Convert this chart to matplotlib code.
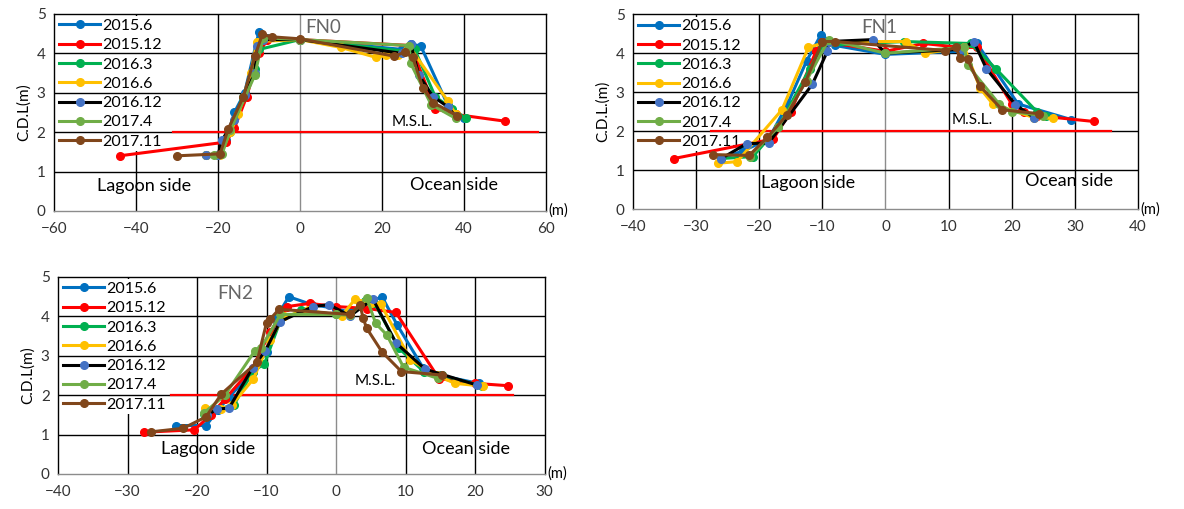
"""Beach profile chart, FN0 / FN1 / FN2 cross sections"""

import matplotlib
matplotlib.use('Agg')
import matplotlib.pyplot as plt
import matplotlib.transforms as mtransforms


plt.rcParams['font.family'] = ['Lato', 'DejaVu Sans']

LABELS = ['2015.6', '2015.12', '2016.3', '2016.6', '2016.12', '2017.4', '2017.11']
LINE_COLORS = ['#0070C0', '#FF0000', '#00B050', '#FFC000', '#000000', '#70AD47', '#80461B']
MARKER_COLORS = ['#0070C0', '#FF0000', '#00B050', '#FFC000', '#4472C4', '#70AD47', '#80461B']

# ---- FN0 ----
fn0_2015_6_x = [-23, -20, -18, -16, -13.5, -10, -8, 0, 25, 27, 29.5, 36, 40]
fn0_2015_6_y = [1.42, 1.42, 1.8, 2.5, 3.0, 4.55, 4.4, 4.35, 4.1, 4.25, 4.18, 2.7, 2.35]
fn0_2015_12_x = [-44, -18, -16, -13, -10, -8, 0, 27, 33, 38, 50]
fn0_2015_12_y = [1.4, 1.75, 2.1, 2.9, 4.0, 4.35, 4.35, 4.2, 2.6, 2.45, 2.28]
fn0_2016_3_x = [-23, -19.5, -17, -14, -11, -10, 0, 26, 28, 33, 37, 40.5]
fn0_2016_3_y = [1.42, 1.45, 2.0, 2.9, 3.6, 4.1, 4.35, 4.05, 4.1, 2.9, 2.6, 2.35]
fn0_2016_6_x = [-23, -19.5, -17, -15, -12, -10.5, 0, 10, 18.5, 21, 24, 26.5, 36, 38]
fn0_2016_6_y = [1.42, 1.42, 2.0, 2.45, 3.5, 4.3, 4.35, 4.15, 3.9, 3.95, 3.95, 4.2, 2.8, 2.45]
fn0_2016_12_x = [-23, -20, -19, -16, -13.5, -11, -10.5, -9, 0, 25, 27, 29, 32.5, 36, 38]
fn0_2016_12_y = [1.42, 1.42, 1.8, 2.3, 2.95, 3.5, 4.2, 4.35, 4.35, 4.0, 4.25, 3.45, 2.9, 2.65, 2.4]
fn0_2017_4_x = [-21, -19, -17, -11, -9, 0, 26.5, 27, 32, 38]
fn0_2017_4_y = [1.42, 1.45, 2.05, 3.45, 4.4, 4.35, 4.2, 3.75, 2.7, 2.35]
fn0_2017_11_x = [-30, -19.5, -17.5, -13.8, -11, -9.2, -6.8, 0, 23, 25.5, 27.5, 30, 32.5, 38.4]
fn0_2017_11_y = [1.4, 1.45, 2.08, 2.9, 3.93, 4.48, 4.42, 4.37, 3.93, 4.03, 3.9, 3.12, 2.75, 2.42]

# ---- FN1 ----
fn1_2015_6_x = [-26, -22.5, -18.5, -15.5, -12.5, -10.2, -8, 0, 12, 14.5, 21, 29.4]
fn1_2015_6_y = [1.3, 1.5, 1.8, 2.7, 3.8, 4.48, 4.2, 3.97, 4.05, 4.25, 2.7, 2.3]
fn1_2015_12_x = [-33.5, -17.8, -15, -11, -10, 0, 6, 12, 14.5, 20, 22, 24, 33]
fn1_2015_12_y = [1.3, 1.8, 2.5, 4.05, 4.3, 4.05, 4.25, 4.15, 4.15, 2.7, 2.5, 2.4, 2.25]
fn1_2016_3_x = [-26, -21, -17, -12, -10, 3, 13.5, 17.5, 24, 25.5]
fn1_2016_3_y = [1.3, 1.35, 2.1, 3.6, 4.2, 4.3, 4.25, 3.6, 2.5, 2.4]
fn1_2016_6_x = [-26.5, -23.5, -16.4, -12.2, -9, 3.2, 6.3, 12.5, 15, 17, 23.5, 26.5]
fn1_2016_6_y = [1.18, 1.22, 2.55, 4.15, 4.3, 4.3, 4.0, 4.15, 3.1, 2.7, 2.35, 2.33]
fn1_2016_12_x = [-26, -22, -18.5, -11.6, -9.2, -9, -2, 0, 12, 14, 16, 20.6, 23.5]
fn1_2016_12_y = [1.3, 1.68, 1.7, 3.2, 4.05, 4.3, 4.35, 4.0, 4.1, 4.3, 3.6, 2.68, 2.35]
fn1_2017_4_x = [-21.5, -17, -12.5, -9, 0, 12.5, 13, 18, 20, 25]
fn1_2017_4_y = [1.35, 2.1, 3.3, 4.35, 4.0, 4.15, 3.7, 2.7, 2.5, 2.4]
fn1_2017_11_x = [-27.4, -21.6, -18.7, -15.6, -12.7, -10, -8, 9.5, 11.2, 11.8, 13, 15, 18.5, 24.3]
fn1_2017_11_y = [1.4, 1.38, 1.84, 2.42, 3.26, 4.3, 4.3, 4.07, 4.15, 3.87, 3.85, 3.15, 2.55, 2.45]

# ---- FN2 ----
fn2_2015_6_x = [-23, -18.7, -17, -15.4, -12, -10, -8.5, -6.8, -3.5, 0, 2, 5.3, 6.6, 8.8, 12.5, 15, 20.5]
fn2_2015_6_y = [1.23, 1.23, 1.62, 1.95, 2.6, 3.1, 4.0, 4.5, 4.3, 4.2, 4.1, 4.4, 4.5, 3.78, 2.7, 2.5, 2.3]
fn2_2015_12_x = [-27.7, -20.4, -18, -16, -12, -9.5, -7, -3.8, 0, 4.5, 8.6, 14.8, 20, 24.8]
fn2_2015_12_y = [1.06, 1.12, 1.5, 1.9, 2.7, 3.6, 4.25, 4.33, 4.25, 4.2, 4.1, 2.42, 2.3, 2.24]
fn2_2016_3_x = [-19, -17, -14.7, -12, -10.3, -8, -5, 0, 2, 4.2, 5.5, 9, 12.6, 15.3, 21]
fn2_2016_3_y = [1.52, 1.65, 1.75, 2.6, 2.8, 3.9, 4.15, 4.05, 4.05, 4.4, 4.35, 3.2, 2.6, 2.5, 2.23]
fn2_2016_6_x = [-18.9, -16.5, -15, -11.9, -9.5, -7.5, -4, 0.8, 2.7, 5, 6.4, 10.7, 14.5, 17.1, 21.2]
fn2_2016_6_y = [1.67, 1.65, 1.75, 2.41, 3.4, 4.0, 4.15, 4.01, 4.43, 4.35, 4.32, 2.9, 2.5, 2.3, 2.23]
fn2_2016_12_x = [-18.5, -17.1, -15.4, -12, -10.2, -8.05, -3.3, -1, 2, 5.3, 8.6, 12.8, 20.2]
fn2_2016_12_y = [1.5, 1.65, 1.67, 2.7, 3.12, 3.87, 4.25, 4.3, 4.01, 4.44, 3.33, 2.66, 2.26]
fn2_2017_4_x = [-19, -16, -11.7, -10.8, -8, 0, 2, 4.4, 5.7, 7.3, 9.7, 14.6]
fn2_2017_4_y = [1.55, 2.0, 3.12, 3.2, 4.05, 4.05, 4.03, 4.47, 3.82, 3.53, 2.71, 2.43]
fn2_2017_11_x = [-26.6, -22, -18.7, -16.5, -11.4, -10, -9.5, -8.2, 2, 3.45, 3.9, 4.4, 6.6, 9.4, 15.3]
fn2_2017_11_y = [1.07, 1.16, 1.45, 2.03, 2.83, 3.84, 3.93, 4.18, 4.05, 4.29, 3.95, 3.7, 3.1, 2.6, 2.51]

fn0_series = [(fn0_2015_6_x, fn0_2015_6_y), (fn0_2015_12_x, fn0_2015_12_y),
              (fn0_2016_3_x, fn0_2016_3_y), (fn0_2016_6_x, fn0_2016_6_y),
              (fn0_2016_12_x, fn0_2016_12_y), (fn0_2017_4_x, fn0_2017_4_y),
              (fn0_2017_11_x, fn0_2017_11_y)]
fn1_series = [(fn1_2015_6_x, fn1_2015_6_y), (fn1_2015_12_x, fn1_2015_12_y),
              (fn1_2016_3_x, fn1_2016_3_y), (fn1_2016_6_x, fn1_2016_6_y),
              (fn1_2016_12_x, fn1_2016_12_y), (fn1_2017_4_x, fn1_2017_4_y),
              (fn1_2017_11_x, fn1_2017_11_y)]
fn2_series = [(fn2_2015_6_x, fn2_2015_6_y), (fn2_2015_12_x, fn2_2015_12_y),
              (fn2_2016_3_x, fn2_2016_3_y), (fn2_2016_6_x, fn2_2016_6_y),
              (fn2_2016_12_x, fn2_2016_12_y), (fn2_2017_4_x, fn2_2017_4_y),
              (fn2_2017_11_x, fn2_2017_11_y)]


def draw_panel(ax, series, xlim, xstep, ylabel, title, title_xy,
               msl_span, msl_xy, lagoon_xy, ocean_xy):
    ax.set_xlim(*xlim)
    ax.set_ylim(0, 5)
    ax.set_xticks(range(xlim[0], xlim[1] + 1, xstep))
    ax.set_yticks(range(0, 6))
    ax.tick_params(length=0, labelsize=11, colors='#333333')
    ax.tick_params(axis='x', pad=8)
    ax.tick_params(axis='y', pad=6)
    for sp in ax.spines.values():
        sp.set_color('black')
        sp.set_linewidth(1.0)
    ax.spines['bottom'].set_color('#8c8c8c')

    # vertical grid under the legend, horizontal grid over it
    for xv in range(xlim[0] + xstep, xlim[1], xstep):
        c = '#8c8c8c' if xv == 0 else 'black'
        ax.axvline(xv, color=c, lw=1.0, zorder=0.5)
    for yv in range(1, 5):
        ax.axhline(yv, color='black', lw=1.0, zorder=6)

    ax.plot(msl_span, [2, 2], color='#FF0000', lw=1.6, zorder=7)
    for (xs, ys), lab, lc, mc in zip(series, LABELS, LINE_COLORS, MARKER_COLORS):
        ax.plot(xs, ys, '-o', color=lc, mfc=mc, mec=mc, lw=2.2, ms=5.5,
                label=lab, zorder=8)

    leg = ax.legend(loc='upper left', bbox_to_anchor=(0.0, 1.0), frameon=True,
                    fontsize=11.5, handlelength=2.6, handletextpad=0.1,
                    labelspacing=0.32, borderpad=0.15, borderaxespad=0.15,
                    fancybox=False, edgecolor='none', framealpha=1.0)
    leg.set_zorder(5)

    ax.set_ylabel(ylabel, fontsize=11, labelpad=4)
    ax.text(*title_xy, title, fontsize=13.5, color='#666666', ha='center',
            va='center', zorder=9)
    ax.text(*msl_xy, 'M.S.L.', fontsize=11, ha='center', va='center', zorder=9)
    ax.text(*lagoon_xy, 'Lagoon side', fontsize=13, ha='center', va='center')
    ax.text(*ocean_xy, 'Ocean side', fontsize=13, ha='center', va='center')
    trans = mtransforms.blended_transform_factory(ax.transAxes, ax.transData)
    ax.text(1.005, 0.0, '(m)', transform=trans, fontsize=10.5, ha='left',
            va='center', clip_on=False)


fig = plt.figure(figsize=(11.84, 5.09), dpi=100)
ax1 = fig.add_axes([0.0456, 0.5855, 0.4155, 0.387])
ax2 = fig.add_axes([0.5346, 0.589, 0.4265, 0.383])
ax3 = fig.add_axes([0.049, 0.0688, 0.411, 0.387])

draw_panel(ax1, fn0_series, (-60, 60), 20, 'C.D.L(m)', 'FN0', (5.6, 4.66),
           (-31, 58), (27.3, 2.26), (-38, 0.64), (37.6, 0.66))
draw_panel(ax2, fn1_series, (-40, 40), 10, 'C.D.L.(m)', 'FN1', (-1, 4.67),
           (-27.6, 35.7), (13.8, 2.3), (-12.2, 0.66), (29.1, 0.72))
draw_panel(ax3, fn2_series, (-40, 30), 10, 'C.D.L(m)', 'FN2', (-14.5, 4.57),
           (-23.7, 25.5), (5.7, 2.36), (-18.4, 0.63), (18.7, 0.63))

fig.savefig('out.png', dpi=100)
